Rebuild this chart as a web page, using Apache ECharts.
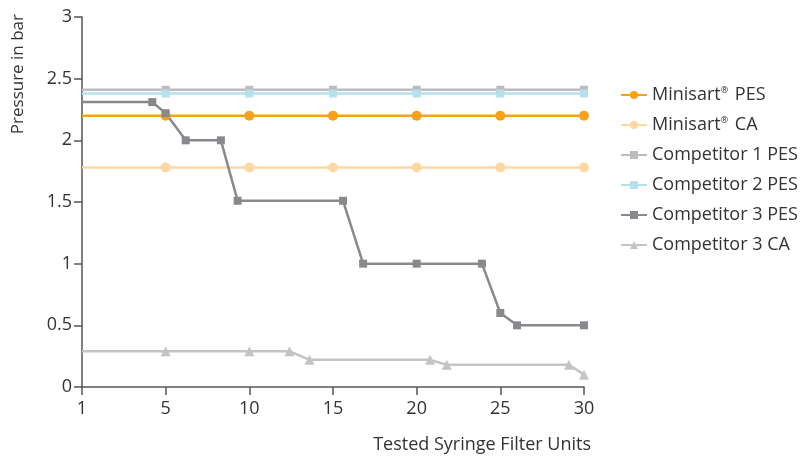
<!DOCTYPE html>
<html>
<head>
<meta charset="utf-8">
<script src="https://cdn.jsdelivr.net/npm/echarts@6/dist/echarts.min.js"></script>
<style>
  html, body { margin: 0; padding: 0; background: #fff; }
  #chart { width: 803px; height: 461px; }
</style>
</head>
<body>
<div id="chart"></div>
<script>
// x positions: axis starts at 0, which is labelled as unit "1"
var flatX = [0, 5, 10, 15, 20, 25, 30];
var minisartPes = [2.2, 2.2, 2.2, 2.2, 2.2, 2.2, 2.2];
var minisartCa = [1.78, 1.78, 1.78, 1.78, 1.78, 1.78, 1.78];
var comp1Pes = [2.41, 2.41, 2.41, 2.41, 2.41, 2.41, 2.41];
var comp2Pes = [2.38, 2.38, 2.38, 2.38, 2.38, 2.38, 2.38];

var comp3PesX = [0, 4.2, 5, 6.2, 8.3, 9.3, 15.6, 16.8, 20, 23.9, 25, 26, 30];
var comp3PesY = [2.31, 2.31, 2.22, 2.0, 2.0, 1.51, 1.51, 1.0, 1.0, 1.0, 0.6, 0.5, 0.5];

var comp3CaX = [0, 5, 10, 12.4, 13.6, 20.8, 21.8, 29.1, 30];
var comp3CaY = [0.29, 0.29, 0.29, 0.29, 0.22, 0.22, 0.18, 0.18, 0.1];

var names = ['Minisart® PES', 'Minisart® CA', 'Competitor 1 PES', 'Competitor 2 PES', 'Competitor 3 PES', 'Competitor 3 CA'];
var colors = ['#f5a11c', '#fdd8a2', '#bcbcbf', '#b4e1ec', '#88898c', '#c4c4c6'];

function pts(xs, ys) {
    return xs.map(function (x, i) {
        var d = { value: [x, ys[i]] };
        if (i === 0) d.symbol = 'none';   // line starts at the axis without a marker
        return d;
    });
}

var myChart = echarts.init(document.getElementById('chart'));
var font = 'Open Sans';

function line(idx, data, symbol, size) {
    return {
        name: names[idx],
        type: 'line',
        data: data,
        symbol: symbol,
        symbolSize: size,
        color: colors[idx],
        lineStyle: { width: 2.5, color: colors[idx] },
        itemStyle: { color: colors[idx] },
        emphasis: { disabled: true },
        animation: false
    };
}

option = {
    backgroundColor: '#fff',
    textStyle: { fontFamily: font },
    grid: { left: 82, right: 219, top: 17, bottom: 74 },
    legend: {
        orient: 'vertical',
        left: 615,
        top: 81,
        itemWidth: 26,
        itemHeight: 10,
        itemGap: 12,
        textStyle: {
            fontFamily: font,
            fontSize: 18,
            color: '#333',
            rich: {
                t: { fontFamily: font, fontSize: 18, color: '#333' },
                sup: { fontFamily: font, fontSize: 9, color: '#333', verticalAlign: 'top', padding: [0, 2, 9, 0] }
            }
        },
        formatter: function (name) {
            var parts = name.split('®');
            if (parts.length < 2) return name;
            return '{t|' + parts[0] + '}{sup|®}{t|' + parts[1] + '}';
        },
        data: names
    },
    xAxis: {
        type: 'value',
        min: 0,
        max: 30,
        interval: 5,
        axisLine: { show: true, lineStyle: { color: '#555', width: 1.5 } },
        axisTick: { show: true, length: 8, lineStyle: { color: '#555', width: 1.5 } },
        splitLine: { show: false },
        axisLabel: {
            fontFamily: font,
            fontSize: 18,
            color: '#333',
            margin: 13,
            formatter: function (v) { return v === 0 ? '1' : String(v); }
        }
    },
    yAxis: {
        type: 'value',
        min: 0,
        max: 3,
        interval: 0.5,
        axisLine: { show: true, lineStyle: { color: '#555', width: 1.5 } },
        axisTick: { show: true, length: 8, lineStyle: { color: '#555', width: 1.5 } },
        splitLine: { show: false },
        axisLabel: { fontFamily: font, fontSize: 18, color: '#333', margin: 10 }
    },
    graphic: [
        {
            type: 'text',
            left: 10,
            top: 14,
            rotation: Math.PI / 2,
            style: { text: 'Pressure in bar', font: '17px "' + font + '"', fill: '#333' }
        },
        {
            type: 'text',
            right: 212,
            top: 436,
            style: { text: 'Tested Syringe Filter Units', font: '18px "' + font + '"', fill: '#333' }
        }
    ],
    series: [
        line(0, pts(flatX, minisartPes), 'circle', 10),
        line(1, pts(flatX, minisartCa), 'circle', 10),
        line(2, pts(flatX, comp1Pes), 'rect', 8),
        line(3, pts(flatX, comp2Pes), 'rect', 8),
        line(4, pts(comp3PesX, comp3PesY), 'rect', 8),
        line(5, pts(comp3CaX, comp3CaY), 'triangle', 10)
    ]
};

myChart.setOption(option);

window.addEventListener('resize', function () {
    myChart.resize();
});
</script>
</body>
</html>
